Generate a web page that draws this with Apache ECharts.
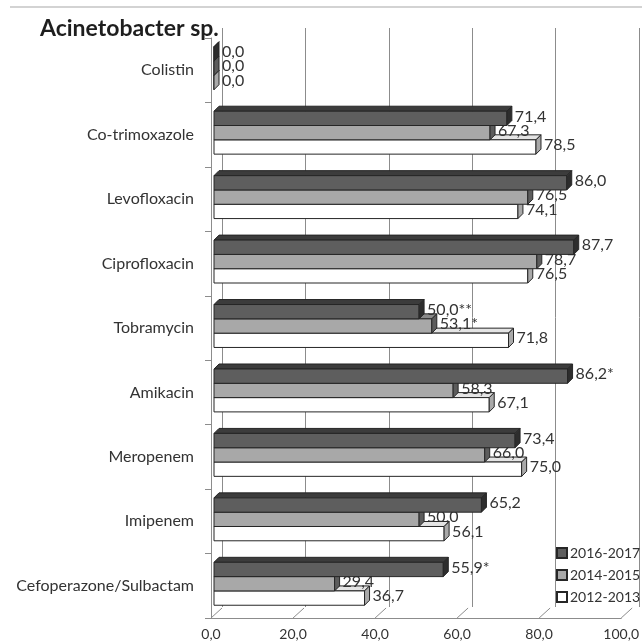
<!DOCTYPE html>
<html>
<head>
<meta charset="utf-8">
<title>Acinetobacter sp.</title>
<script src="https://cdn.jsdelivr.net/npm/echarts@6/dist/echarts.min.js"></script>
<style>
    html, body {
        margin: 0;
        padding: 0;
        background: #ffffff;
    }
    #chart {
        width: 642px;
        height: 644px;
    }
</style>
</head>
<body>
<div id="chart"></div>
<script>
// categories from bottom to top (category axis runs upwards)
var categories = ['Cefoperazone/Sulbactam', 'Imipenem', 'Meropenem', 'Amikacin', 'Tobramycin',
    'Ciprofloxacin', 'Levofloxacin', 'Co-trimoxazole', 'Colistin'];
var years = ['2012-2013', '2014-2015', '2016-2017'];
var values2012 = [36.7, 56.1, 75.0, 67.1, 71.8, 76.5, 74.1, 78.5, 0.0];
var values2014 = [29.4, 50.0, 66.0, 58.3, 53.1, 78.7, 76.5, 67.3, 0.0];
var values2016 = [55.9, 65.2, 73.4, 86.2, 50.0, 87.7, 86.0, 71.4, 0.0];
// significance marks printed after the value
var marks2012 = ['', '', '', '', '', '', '', '', ''];
var marks2014 = ['', '', '', '', '*', '', '', '', ''];
var marks2016 = ['*', '', '', '*', '**', '', '', '', ''];
var xTicks = [0, 20, 40, 60, 80, 100];

var FONT = 'Lato';
var DEPTH = 5;
// front / top / side colours of each year
var faces = [
    {front: '#ffffff', top: '#e4e4e4', side: '#a9a9a9'},
    {front: '#a8a8a8', top: '#8a8a8a', side: '#5c5c5c'},
    {front: '#5e5e5e', top: '#3c3c3c', side: '#2d2d2d'}
];
var valueLists = [values2012, values2014, values2016];
var markLists = [marks2012, marks2014, marks2016];

function fmt (v) {
    return v.toFixed(1).replace('.', ',');
}

function barRenderer (s) {
    return function (params, api) {
        var cat = api.value(1);
        var val = api.value(0);
        var start = api.coord([0, cat]);
        var end = api.coord([val, cat]);
        var band = api.size([0, 1])[1];
        var h = band * 0.222;
        var top = start[1] - 2 - 1.5 * h + (2 - s) * h;
        var x0 = start[0] + 3;
        var x1 = end[0] + 3;
        var d = DEPTH;
        var f = faces[s];
        var stroke = {stroke: '#262626', lineWidth: 1};
        return {
            type: 'group',
            children: [
                {
                    type: 'polygon',
                    shape: {points: [[x0, top], [x0 + d, top - d], [x1 + d, top - d], [x1, top]]},
                    style: Object.assign({fill: f.top}, stroke)
                },
                {
                    type: 'rect',
                    shape: {x: x0, y: top, width: x1 - x0, height: h},
                    style: Object.assign({fill: f.front}, stroke)
                },
                {
                    type: 'polygon',
                    shape: {points: [[x1, top], [x1 + d, top - d], [x1 + d, top + h - d], [x1, top + h]]},
                    style: Object.assign({fill: f.side}, stroke)
                },
                {
                    type: 'text',
                    z2: 50,
                    style: {
                        x: x1 + d + 3,
                        y: top + h / 2 - 2,
                        text: fmt(val) + markLists[s][params.dataIndex],
                        fill: '#333333',
                        font: '16px ' + FONT,
                        verticalAlign: 'middle'
                    }
                }
            ]
        };
    };
}

var chart = echarts.init(document.getElementById('chart'));

var series = [];
for (var s = 0; s < 3; s++) {
    series.push({
        name: years[s],
        type: 'custom',
        xAxisIndex: 0,
        yAxisIndex: 0,
        renderItem: barRenderer(s),
        itemStyle: {color: faces[s].front, borderColor: '#262626', borderWidth: 1},
        data: valueLists[s].map(function (v, i) { return [v, i]; }),
        z: 10 + s
    });
}
// floor lines running from the front axis to the back wall
series.push({
    type: 'custom',
    xAxisIndex: 0,
    yAxisIndex: 0,
    silent: true,
    renderItem: function (params, api) {
        var p = api.coord([api.value(0), 0]);
        var bottom = params.coordSys.y + params.coordSys.height;
        return {
            type: 'line',
            shape: {x1: p[0], y1: bottom, x2: p[0] + 11, y2: bottom - 10},
            style: {stroke: '#8c8c8c', lineWidth: 1}
        };
    },
    data: xTicks.map(function (t) { return [t]; }),
    z: 1
});

var option = {
    animation: false,
    backgroundColor: '#ffffff',
    title: {
        text: 'Acinetobacter sp.',
        left: 35,
        top: 12,
        textStyle: {fontFamily: FONT, fontSize: 23, fontWeight: 'bold', color: '#1e1e1e'}
    },
    legend: {
        orient: 'vertical',
        left: 551,
        top: 541,
        icon: 'rect',
        itemWidth: 10,
        itemHeight: 10,
        itemGap: 8,
        data: ['2016-2017', '2014-2015', '2012-2013'],
        textStyle: {fontFamily: FONT, fontSize: 14, color: '#333333', lineHeight: 14, padding: [0, 0, 0, -2]}
    },
    graphic: [{
        type: 'line',
        shape: {x1: 10, y1: 7, x2: 642, y2: 7},
        style: {stroke: '#c4c4c4', lineWidth: 1.5}
    }],
    grid: [
        // front plane: axis labels and bars
        {left: 211, right: 14, top: 38, bottom: 26},
        // back wall: gridlines
        {left: 222, right: 3, top: 28, bottom: 37}
    ],
    xAxis: [
        {
            type: 'value',
            gridIndex: 0,
            min: 0,
            max: 100,
            interval: 20,
            axisLine: {show: true, lineStyle: {color: '#8c8c8c'}},
            axisTick: {show: false},
            splitLine: {show: false},
            axisLabel: {
                margin: 9,
                fontFamily: FONT,
                fontSize: 14,
                color: '#333333',
                formatter: function (v) { return fmt(v); }
            }
        },
        {
            type: 'value',
            gridIndex: 1,
            min: 0,
            max: 100,
            interval: 20,
            axisLine: {show: false},
            axisTick: {show: false},
            axisLabel: {show: false},
            splitLine: {show: true, lineStyle: {color: '#8c8c8c', width: 1}}
        }
    ],
    yAxis: [
        {
            type: 'category',
            gridIndex: 0,
            data: categories,
            axisLine: {show: true, lineStyle: {color: '#8c8c8c'}},
            axisTick: {show: true, length: 6, lineStyle: {color: '#8c8c8c'}},
            axisLabel: {margin: 17, fontFamily: FONT, fontSize: 16, color: '#333333'}
        },
        {
            type: 'category',
            gridIndex: 1,
            data: categories,
            show: false
        }
    ],
    series: series
};

chart.setOption(option);
</script>
</body>
</html>
